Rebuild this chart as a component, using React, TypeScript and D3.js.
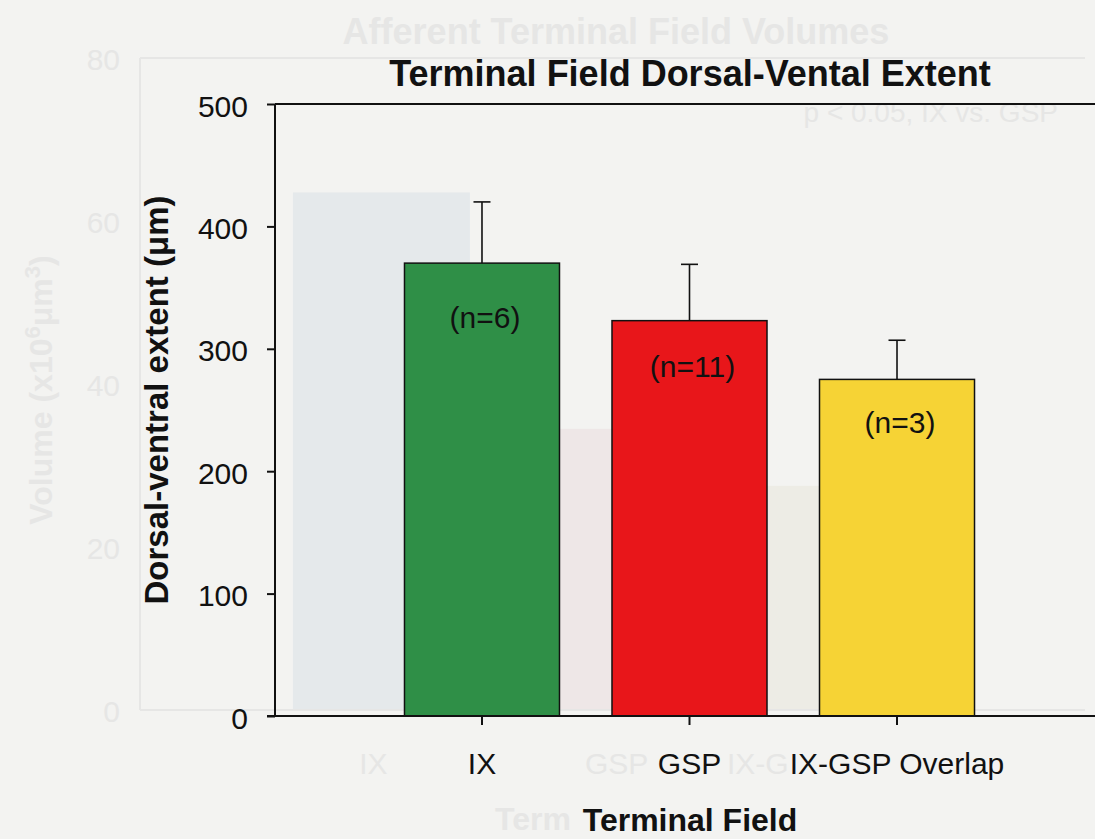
import React, { useRef, useEffect } from 'react';
import * as d3 from 'd3';

// main chart data
const categories = ['IX', 'GSP', 'IX-GSP Overlap'];
const extentMeans = [370, 323, 275];
const extentErrors = [50, 46, 32];
const sampleLabels = ['(n=6)', '(n=11)', '(n=3)'];
const sampleLabelAt = [317, 277, 231]; // baseline of the n= labels, in µm
const yTicks = [0, 100, 200, 300, 400, 500];
const barColors = ['#2f8f47', '#e8161a', '#f6d335'];

// faint slide showing through the scan
const ghostCategories = ['IX', 'GSP', 'IX-GSP Overlap'];
const ghostTickLabels = ['IX', 'GSP', 'IX-G'];
const ghostVolumes = [63.5, 34.5, 27.5];
const ghostTicks = [0, 20, 40, 60, 80];
const ghostColors = ['#e5e9eb', '#eee7e7', '#edece5'];

const FONT = '"Liberation Sans", Arial, Helvetica, sans-serif';
const BG = '#f3f3f1';
const GHOST = '#e6e6e5';

const App = () => {
  const svgRef = useRef<SVGSVGElement>(null);

  useEffect(() => {
    const svg = d3.select(svgRef.current);
    svg.selectAll('*').remove();
    const width = 1095;
    const height = 839;

    svg.append('rect').attr('width', width).attr('height', height).attr('fill', BG);

    // ---- ghost layer ----
    const g0 = svg.append('g');
    const gx = d3.scaleBand().domain(ghostCategories).range([140, 1085])
      .paddingInner(0.234).paddingOuter(0.662);
    const gy = d3.scaleLinear().domain([0, 80]).range([710, 58]);

    g0.selectAll('rect.gbar')
      .data(ghostVolumes)
      .join('rect')
      .attr('x', (d, i) => gx(ghostCategories[i])!)
      .attr('width', gx.bandwidth())
      .attr('y', d => gy(d))
      .attr('height', d => gy(0) - gy(d))
      .attr('fill', (d, i) => ghostColors[i]);

    g0.append('line').attr('x1', 140).attr('x2', 1085).attr('y1', gy(80)).attr('y2', gy(80))
      .attr('stroke', GHOST).attr('stroke-width', 2);
    g0.append('line').attr('x1', 140).attr('x2', 1085).attr('y1', gy(0)).attr('y2', gy(0))
      .attr('stroke', GHOST).attr('stroke-width', 2);
    g0.append('line').attr('x1', 140).attr('x2', 140).attr('y1', gy(80)).attr('y2', gy(0))
      .attr('stroke', GHOST).attr('stroke-width', 2);

    g0.selectAll('text.gtick')
      .data(ghostTicks)
      .join('text')
      .attr('x', 120).attr('y', d => gy(d) + 12)
      .attr('text-anchor', 'end')
      .attr('font-family', FONT).attr('font-size', 30).attr('fill', GHOST)
      .text(d => d);

    // ghost category labels sit at their own spots on the old slide
    g0.selectAll('text.gcat')
      .data(ghostTickLabels)
      .join('text')
      .attr('x', (d, i) => [gx(ghostCategories[0])! + gx.bandwidth() / 2 - 8, 585, 727][i])
      .attr('y', 774)
      .attr('text-anchor', (d, i) => (i === 0 ? 'middle' : 'start'))
      .attr('font-family', FONT).attr('font-size', 30).attr('fill', GHOST)
      .text(d => d);

    g0.append('text').attr('x', 616).attr('y', 44).attr('text-anchor', 'middle')
      .attr('font-family', FONT).attr('font-size', 36).attr('font-weight', 'bold').attr('fill', GHOST)
      .text('Afferent Terminal Field Volumes');
    g0.append('text').attr('x', 1058).attr('y', 122).attr('text-anchor', 'end')
      .attr('font-family', FONT).attr('font-size', 28).attr('fill', GHOST)
      .text('p < 0.05, IX vs. GSP');
    g0.append('text').attr('x', 495).attr('y', 830)
      .attr('font-family', FONT).attr('font-size', 32).attr('font-weight', 'bold').attr('fill', GHOST)
      .text('Term');
    const gl = g0.append('text')
      .attr('transform', 'translate(52,390) rotate(-90)')
      .attr('text-anchor', 'middle')
      .attr('font-family', FONT).attr('font-size', 32).attr('font-weight', 'bold').attr('fill', GHOST);
    gl.append('tspan').text('Volume (x10');
    gl.append('tspan').attr('dy', -12).attr('font-size', 22).text('6');
    gl.append('tspan').attr('dy', 12).text('\u03bcm');
    gl.append('tspan').attr('dy', -12).attr('font-size', 22).text('3');
    gl.append('tspan').attr('dy', 12).text(')');

    // ---- main chart ----
    const left = 275;
    const right = 1104;
    const x = d3.scaleBand().domain(categories).range([left, right])
      .paddingInner(0.253).paddingOuter(0.624);
    const y = d3.scaleLinear().domain([0, 500]).range([716, 104]);

    const bars = svg.append('g');
    bars.selectAll('rect')
      .data(extentMeans)
      .join('rect')
      .attr('x', (d, i) => x(categories[i])!)
      .attr('width', x.bandwidth())
      .attr('y', d => y(d))
      .attr('height', d => y(0) - y(d))
      .attr('fill', (d, i) => barColors[i])
      .attr('stroke', '#111')
      .attr('stroke-width', 1.5);

    // error bars (upper only)
    const err = svg.append('g').attr('stroke', '#111').attr('stroke-width', 1.6);
    extentMeans.forEach((m, i) => {
      const cx = x(categories[i])! + x.bandwidth() / 2;
      err.append('line').attr('x1', cx).attr('x2', cx)
        .attr('y1', y(m)).attr('y2', y(m + extentErrors[i]));
      err.append('line').attr('x1', cx - 8.5).attr('x2', cx + 8.5)
        .attr('y1', y(m + extentErrors[i])).attr('y2', y(m + extentErrors[i]));
    });

    svg.append('g').selectAll('text')
      .data(sampleLabels)
      .join('text')
      .attr('x', (d, i) => x(categories[i])! + x.bandwidth() / 2 + 3)
      .attr('y', (d, i) => y(sampleLabelAt[i]))
      .attr('text-anchor', 'middle')
      .attr('font-family', FONT).attr('font-size', 30).attr('fill', '#111')
      .text(d => d);

    // frame lines
    svg.append('line').attr('x1', left).attr('x2', width).attr('y1', y(500)).attr('y2', y(500))
      .attr('stroke', '#111').attr('stroke-width', 2);

    const yAxis = svg.append('g')
      .attr('transform', `translate(${left},0)`)
      .call(d3.axisLeft(y).tickValues(yTicks).tickSize(8).tickPadding(19));
    yAxis.select('.domain').remove();
    yAxis.selectAll('line').attr('stroke', '#111').attr('stroke-width', 2);
    yAxis.selectAll('text')
      .attr('dy', '0.4em')
      .attr('font-family', FONT).attr('font-size', 30).attr('fill', '#111');

    const xAxis = svg.append('g')
      .attr('transform', `translate(0,${y(0)})`)
      .call(d3.axisBottom(x).tickSize(9).tickPadding(28));
    xAxis.select('.domain').remove();
    xAxis.selectAll('line').attr('stroke', '#111').attr('stroke-width', 2);
    xAxis.selectAll('text')
      .attr('dy', '0.71em')
      .attr('font-family', FONT).attr('font-size', 30).attr('fill', '#111');

    svg.append('line').attr('x1', left).attr('x2', left).attr('y1', y(500)).attr('y2', y(0))
      .attr('stroke', '#111').attr('stroke-width', 2);
    svg.append('line').attr('x1', left - 8).attr('x2', width).attr('y1', y(0)).attr('y2', y(0))
      .attr('stroke', '#111').attr('stroke-width', 2);

    // titles
    svg.append('text').attr('x', 690).attr('y', 86).attr('text-anchor', 'middle')
      .attr('font-family', FONT).attr('font-size', 36).attr('font-weight', 'bold').attr('fill', '#111')
      .text('Terminal Field Dorsal-Vental Extent');

    svg.append('text').attr('x', 690).attr('y', 831).attr('text-anchor', 'middle')
      .attr('font-family', FONT).attr('font-size', 32).attr('font-weight', 'bold').attr('fill', '#111')
      .text('Terminal Field');

    svg.append('text')
      .attr('transform', `translate(168,400) rotate(-90)`)
      .attr('text-anchor', 'middle')
      .attr('font-family', FONT).attr('font-size', 33).attr('font-weight', 'bold').attr('fill', '#111')
      .text('Dorsal-ventral extent (\u03bcm)');
  }, []);

  return (
    <svg
      ref={svgRef}
      width={1095}
      height={839}
      style={{ position: 'absolute', left: 0, top: 0, display: 'block' }}
    />
  );
};

export default App;
